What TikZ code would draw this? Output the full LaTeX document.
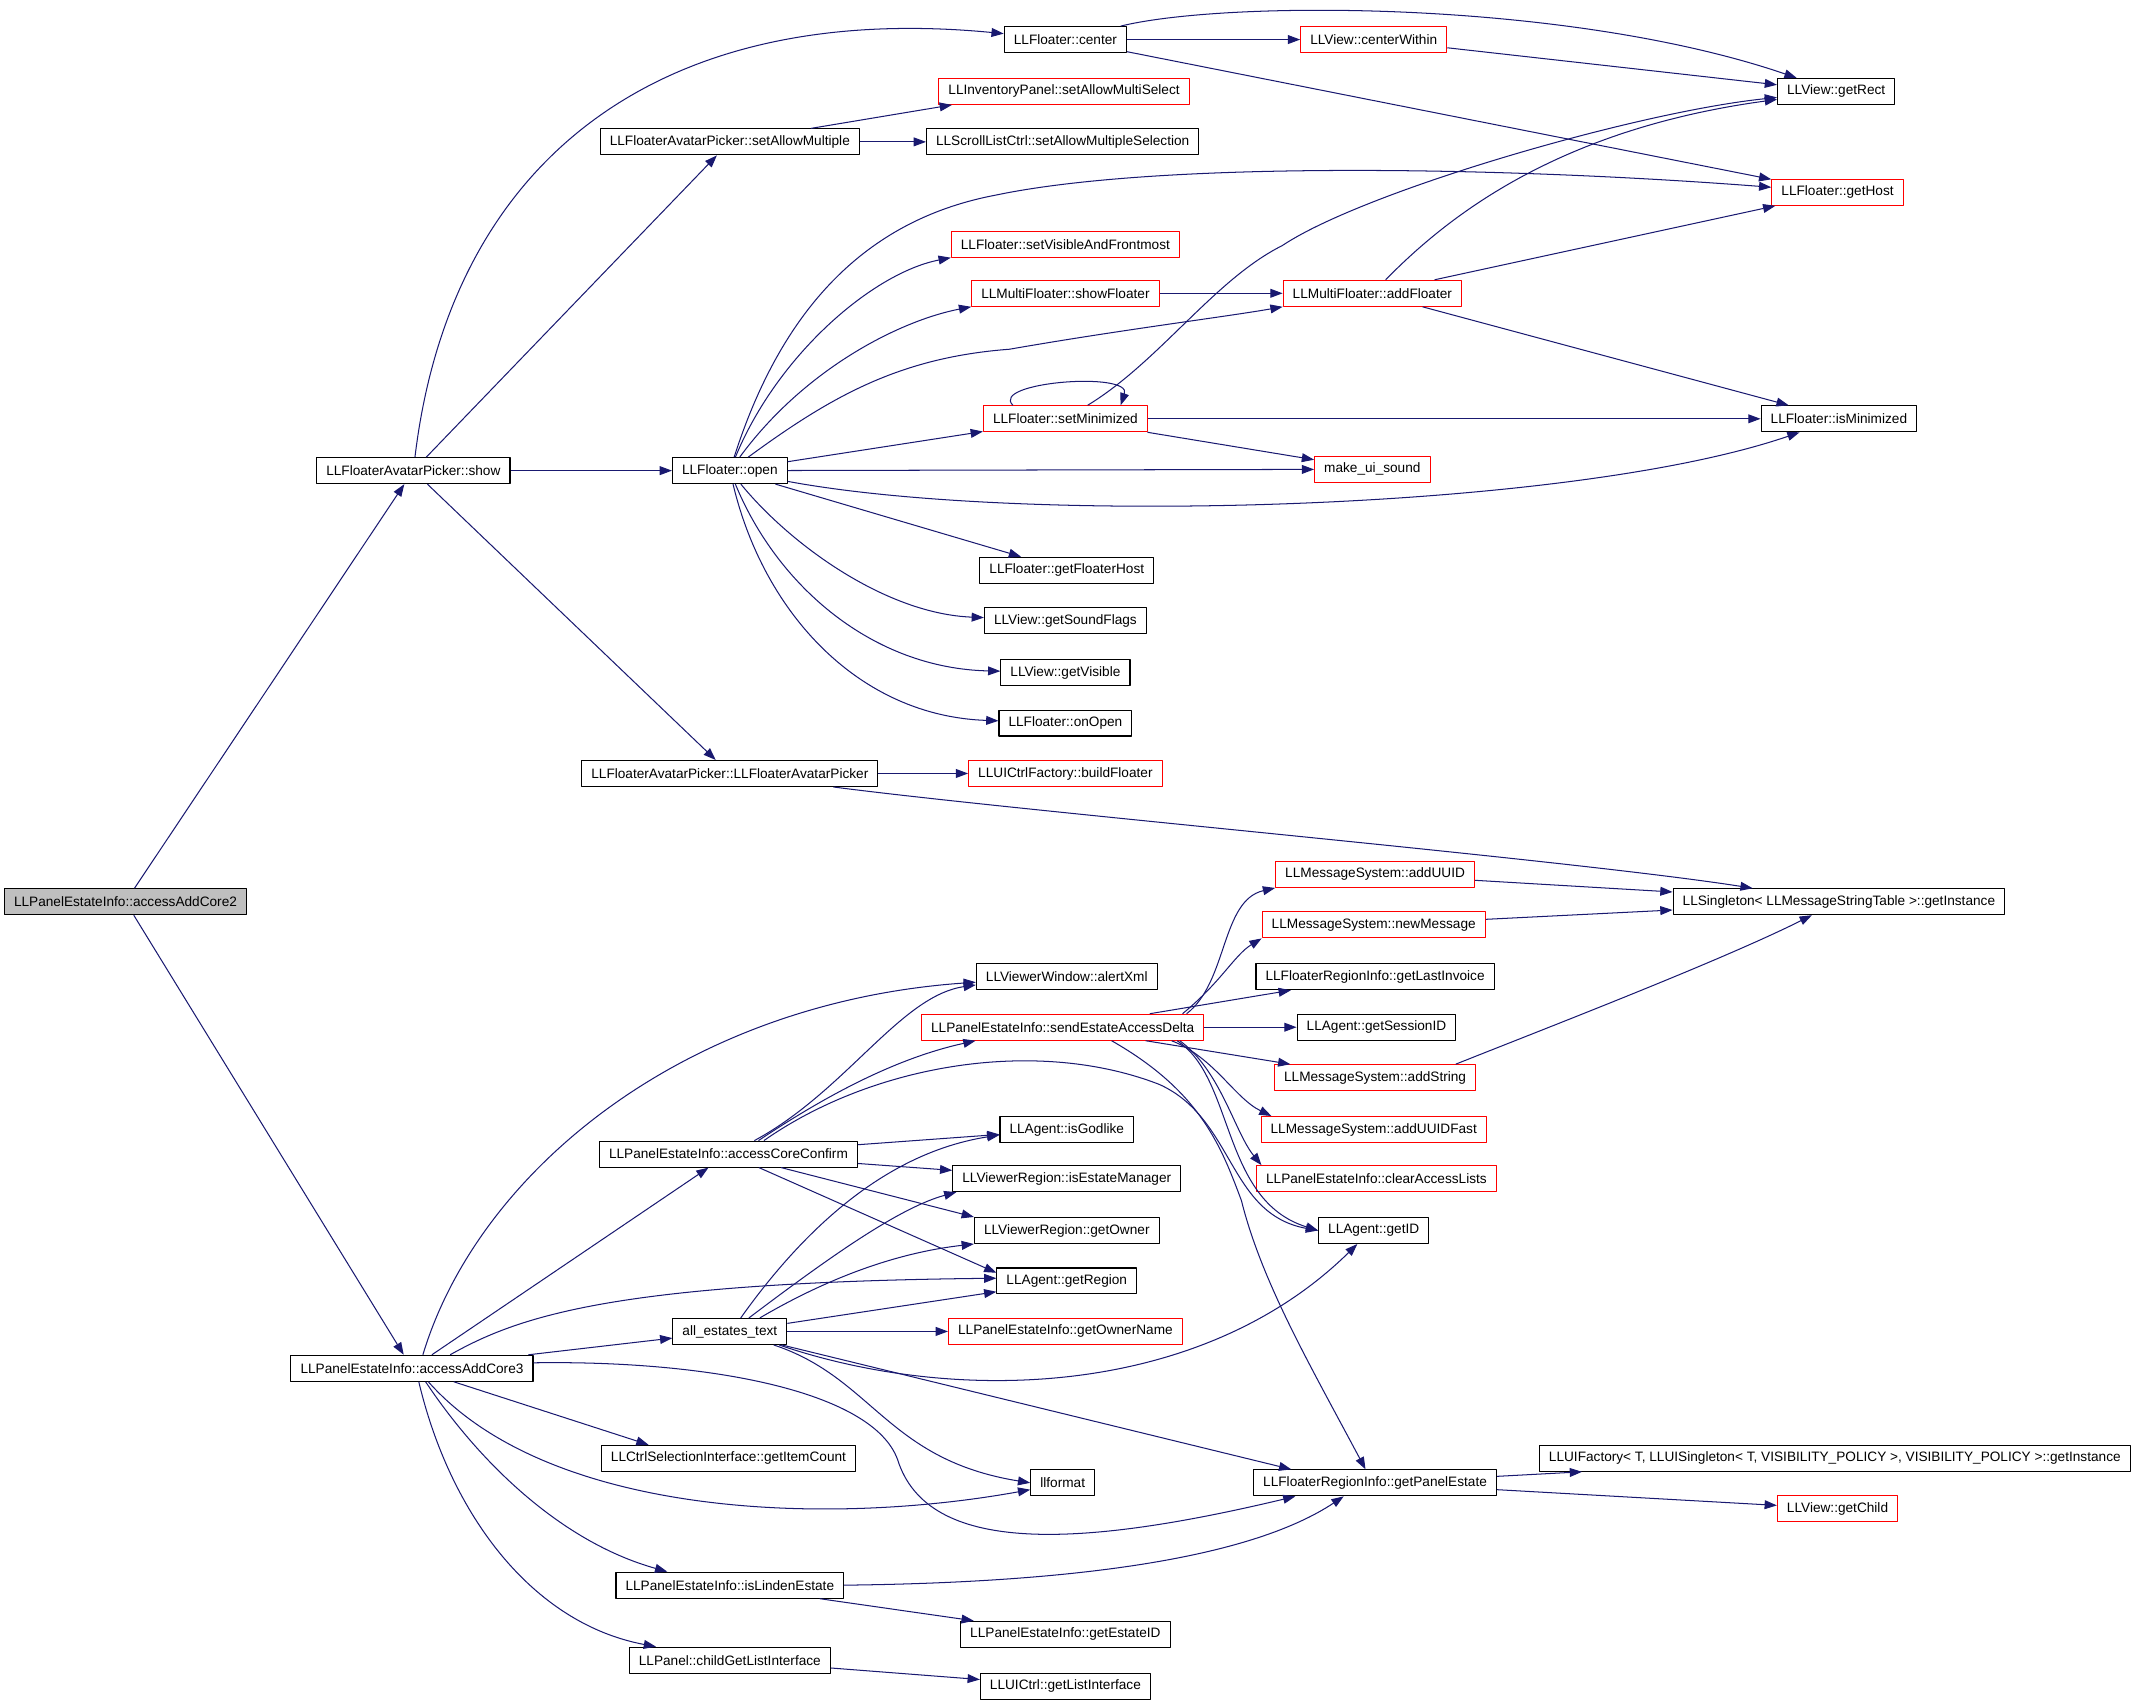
\documentclass[tikz,border=0pt]{standalone}
\usepackage{fontspec}
\setmainfont{Liberation Sans}
\usetikzlibrary{arrows.meta}
\definecolor{edgeblue}{RGB}{25,25,112}
\definecolor{rootgray}{RGB}{191,191,191}
\begin{document}
\begin{tikzpicture}[x=1pt,y=-1pt,line join=round,
    fn/.style={draw=black,line width=.8pt,rectangle,minimum height=19pt,inner xsep=7pt,inner ysep=0pt,font=\fontsize{10}{12}\selectfont},
    redfn/.style={fn,draw=red},
    call/.style={draw=edgeblue,line width=.75pt,-{Triangle[length=9pt,width=6.5pt]}}]
\useasboundingbox (0,0) rectangle (1568,1250);
% nodes
\node[fn,fill=rootgray] (core2) at (92,661) {LLPanelEstateInfo::accessAddCore2};
\node[fn] (show) at (303,345) {LLFloaterAvatarPicker::show};
\node[fn] (core3) at (302,1003) {LLPanelEstateInfo::accessAddCore3};
\node[fn] (center) at (781,29) {LLFloater::center};
\node[fn] (amult) at (535,104) {LLFloaterAvatarPicker::setAllowMultiple};
\node[redfn] (invpanel) at (780,67) {LLInventoryPanel::setAllowMultiSelect};
\node[fn] (scrollctrl) at (779,104) {LLScrollListCtrl::setAllowMultipleSelection};
\node[redfn] (centerwithin) at (1007,29) {LLView::centerWithin};
\node[fn] (getrect) at (1346,67) {LLView::getRect};
\node[redfn] (gethost) at (1347,141) {LLFloater::getHost};
\node[redfn] (setvisible) at (781,179) {LLFloater::setVisibleAndFrontmost};
\node[redfn] (showfloater) at (781,215) {LLMultiFloater::showFloater};
\node[redfn] (addfloater) at (1006,215) {LLMultiFloater::addFloater};
\node[redfn] (setmin) at (781,307) {LLFloater::setMinimized};
\node[fn] (ismin) at (1348,307) {LLFloater::isMinimized};
\node[redfn] (uisound) at (1006,344) {make\_ui\_sound};
\node[fn] (open) at (535,345) {LLFloater::open};
\node[fn] (floaterhost) at (782,418) {LLFloater::getFloaterHost};
\node[fn] (soundflags) at (781,455) {LLView::getSoundFlags};
\node[fn] (getvisible) at (781,493) {LLView::getVisible};
\node[fn] (onopen) at (781,530) {LLFloater::onOpen};
\node[fn] (ctor) at (535,567) {LLFloaterAvatarPicker::LLFloaterAvatarPicker};
\node[redfn] (buildfloater) at (781,567) {LLUICtrlFactory::buildFloater};
\node[fn] (singleton) at (1348,661) {LLSingleton< LLMessageStringTable >::getInstance};
\node[redfn] (adduuid) at (1008,641) {LLMessageSystem::addUUID};
\node[redfn] (newmsg) at (1007,678) {LLMessageSystem::newMessage};
\node[fn] (lastinvoice) at (1008,716) {LLFloaterRegionInfo::getLastInvoice};
\node[fn] (sessionid) at (1009,753) {LLAgent::getSessionID};
\node[redfn] (addstring) at (1008,790) {LLMessageSystem::addString};
\node[redfn] (adduuidfast) at (1007,828) {LLMessageSystem::addUUIDFast};
\node[redfn] (clearlists) at (1009,864) {LLPanelEstateInfo::clearAccessLists};
\node[fn] (getid) at (1007,902) {LLAgent::getID};
\node[fn] (alertxml) at (782,716) {LLViewerWindow::alertXml};
\node[redfn] (senddelta) at (779,753) {LLPanelEstateInfo::sendEstateAccessDelta};
\node[fn] (godlike) at (782,828) {LLAgent::isGodlike};
\node[fn] (confirm) at (534,846) {LLPanelEstateInfo::accessCoreConfirm};
\node[fn] (estatemgr) at (782,864) {LLViewerRegion::isEstateManager};
\node[fn] (getowner) at (782,902) {LLViewerRegion::getOwner};
\node[fn] (getregion) at (782,939) {LLAgent::getRegion};
\node[fn] (allestates) at (535,976) {all\_estates\_text};
\node[redfn] (ownername) at (781,976) {LLPanelEstateInfo::getOwnerName};
\node[fn] (itemcount) at (534,1069) {LLCtrlSelectionInterface::getItemCount};
\node[fn] (llformat) at (779,1087) {llformat};
\node[fn] (panelestate) at (1008,1087) {LLFloaterRegionInfo::getPanelEstate};
\node[fn] (uifactory) at (1345,1069) {LLUIFactory< T, LLUISingleton< T, VISIBILITY\_POLICY >, VISIBILITY\_POLICY >::getInstance};
\node[redfn] (getchild) at (1347,1106) {LLView::getChild};
\node[fn] (linden) at (535,1162) {LLPanelEstateInfo::isLindenEstate};
\node[fn] (estateid) at (781,1198) {LLPanelEstateInfo::getEstateID};
\node[fn] (childlist) at (535,1217) {LLPanel::childGetListInterface};
\node[fn] (listif) at (781,1236) {LLUICtrl::getListInterface};
% straight calls
\foreach \a/\b in {core2/show,core2/core3,show/amult,show/open,show/ctor,amult/scrollctrl,
    center/centerwithin,center/gethost,centerwithin/getrect,showfloater/addfloater,
    addfloater/gethost,addfloater/ismin,open/setmin,open/uisound,open/floaterhost,
    setmin/ismin,setmin/uisound,ctor/buildfloater,adduuid/singleton,newmsg/singleton,
    senddelta/sessionid,confirm/godlike,confirm/estatemgr,core3/confirm,core3/allestates,
    allestates/ownername,panelestate/uifactory,panelestate/getchild,childlist/listif}
    \draw[call] (\a) -- (\b);
% upper part
\draw[call] (show) .. controls (330,120) and (480,0) .. (center);
\draw[call] (center) .. controls (900,0) and (1150,0) .. (getrect);
\draw[call] (amult) -- ([xshift=10pt]invpanel.south west);
\draw[call] (open) .. controls (575,220) and (640,160) .. (730,143) .. controls (850,118) and (1100,122) .. (gethost);
\draw[call] (open) .. controls (570,260) and (640,200) .. (setvisible.south west);
\draw[call] (open) .. controls (590,270) and (660,235) .. (showfloater.south west);
\draw[call] (open) .. controls (610,290) and (660,262) .. (740,256) .. controls (820,242) and (900,232) .. (addfloater.south west);
\draw[call] (open) .. controls (750,385) and (1150,375) .. (ismin);
\draw[call] (open) .. controls (580,400) and (650,450) .. (soundflags);
\draw[call] (open) .. controls (570,430) and (640,490) .. (getvisible);
\draw[call] (open) .. controls (560,450) and (630,525) .. (onopen);
\draw[call] ([xshift=22pt]setmin.north west) .. controls (725,280) and (830,272) .. ([xshift=-20pt]setmin.north east);
\draw[call] (setmin) .. controls (850,265) and (890,205) .. (940,180) .. controls (1000,140) and (1200,82) .. (getrect);
\draw[call] (addfloater) .. controls (1060,160) and (1140,95) .. (getrect);
\draw[call] (ctor) .. controls (750,595) and (1150,630) .. (singleton);
% lower part
\draw[call] ([xshift=-15pt]addstring.north east) .. controls (1130,755) and (1260,705) .. (singleton);
\draw[call] ([xshift=-13pt]senddelta.north east) .. controls (900,720) and (895,660) .. (adduuid.south west);
\draw[call] ([xshift=-16pt]senddelta.north east) .. controls (895,720) and (905,700) .. (newmsg.south west);
\draw[call] ([xshift=-40pt]senddelta.north east) -- ([xshift=26pt]lastinvoice.south west);
\draw[call] ([xshift=-43pt]senddelta.south east) -- ([xshift=12pt]addstring.north west);
\draw[call] ([xshift=-24pt]senddelta.south east) .. controls (890,775) and (905,805) .. ([xshift=8pt]adduuidfast.north west);
\draw[call] ([xshift=-18pt]senddelta.south east) .. controls (895,785) and (905,830) .. ([xshift=4pt]clearlists.north west);
\draw[call] ([xshift=-20pt]senddelta.south east) .. controls (905,790) and (895,880) .. (getid.west);
\draw[call] ([xshift=-68pt]senddelta.south east) .. controls (880,800) and (895,840) .. (910,880) .. controls (925,940) and (960,1000) .. ([xshift=-7pt]panelestate.north);
\draw[call] ([xshift=19pt]confirm.north) .. controls (620,800) and (660,730) .. ([yshift=-6pt]alertxml.west);
\draw[call] ([xshift=8pt]core3.north) .. controls (350,860) and (500,735) .. ([yshift=-4pt]alertxml.west);
\draw[call] ([xshift=22pt]confirm.north) .. controls (610,800) and (660,775) .. ([xshift=40pt]senddelta.south west);
\draw[call] ([xshift=26pt]confirm.north) .. controls (640,780) and (760,760) .. (850,795) .. controls (905,820) and (900,890) .. (getid.west);
\draw[call] (confirm) -- (getowner.north west);
\draw[call] (confirm) -- ([yshift=6pt]getregion.west);
\draw[call] ([xshift=28pt]core3.north) .. controls (380,965) and (450,940) .. ([yshift=2pt]getregion.west);
\draw[call] (core3) -- ([xshift=35pt]itemcount.north west);
\draw[call] ([xshift=12pt]core3.south) .. controls (400,1110) and (600,1120) .. ([yshift=-5pt]llformat.west);
\draw[call] ([yshift=4pt]core3.east) .. controls (520,997) and (640,1020) .. (658,1070) .. controls (680,1140) and (790,1135) .. ([xshift=31pt]panelestate.south west);
\draw[call] ([xshift=10pt]core3.south) .. controls (350,1070) and (410,1130) .. ([xshift=38pt]linden.north west);
\draw[call] ([xshift=5pt]core3.south) .. controls (330,1110) and (390,1190) .. ([xshift=20pt]childlist.north west);
\draw[call] ([xshift=8pt]allestates.north) .. controls (590,900) and (650,845) .. ([yshift=-4pt]godlike.west);
\draw[call] ([xshift=14pt]allestates.north) .. controls (610,920) and (660,885) .. ([xshift=3pt]estatemgr.south west);
\draw[call] ([xshift=22pt]allestates.north) .. controls (610,935) and (660,918) .. (getowner.south west);
\draw[call] ([yshift=-4pt]allestates.north east) -- ([yshift=2pt]getregion.south west);
\draw[call] ([xshift=-6pt]allestates.south east) .. controls (700,1030) and (880,1025) .. ([xshift=-12pt]getid.south);
\draw[call] ([xshift=-10pt]allestates.south east) .. controls (640,1010) and (650,1070) .. (llformat.west);
\draw[call] ([xshift=-4pt]allestates.south east) -- ([xshift=28pt]panelestate.north west);
\draw[call] (linden.east) .. controls (800,1160) and (920,1140) .. ([xshift=-23pt]panelestate.south);
\draw[call] ([xshift=-18pt]linden.south east) -- ([xshift=10pt]estateid.north west);
\end{tikzpicture}
\end{document}
